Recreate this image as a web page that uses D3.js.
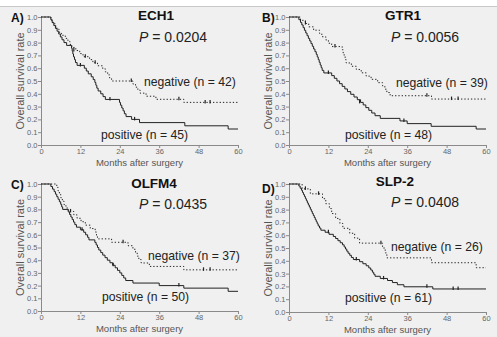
<!DOCTYPE html>
<html>
<head>
<meta charset="utf-8">
<script src="https://cdn.jsdelivr.net/npm/d3@7"></script>
<style>
  html, body { margin: 0; padding: 0; background: #f0f0f0; }
  svg text { font-family: Arial, "Liberation Sans", sans-serif; }
</style>
</head>
<body>
<div id="chart"></div>
<script>
// panel labels and statistics
const panelLabels = ["A)", "B)", "C)", "D)"];
const genes = ["ECH1", "GTR1", "OLFM4", "SLP-2"];
const pValues = ["0.0204", "0.0056", "0.0435", "0.0408"];
const nNegative = [42, 39, 37, 26];
const nPositive = [45, 48, 50, 61];
const xTicks = [0, 12, 24, 36, 48, 60];
const yTicks = [0, 0.1, 0.2, 0.3, 0.4, 0.5, 0.6, 0.7, 0.8, 0.9, 1.0];

// survival steps [month, survival after step]
const echPos = [[0,1],[3.0,0.978],[3.4,0.956],[3.9,0.933],[4.4,0.911],[4.9,0.889],[5.4,0.867],[5.9,0.844],[6.4,0.822],[7.0,0.800],[7.8,0.778],[9.3,0.756],[9.5,0.733],[9.7,0.711],[9.9,0.689],[10.2,0.667],[10.5,0.644],[11.0,0.622],[13.2,0.600],[13.8,0.578],[14.4,0.556],[15.3,0.533],[15.9,0.511],[16.4,0.489],[16.7,0.467],[17.0,0.444],[17.4,0.422],[18.2,0.400],[18.9,0.378],[19.6,0.356],[23.9,0.333],[24.2,0.311],[24.6,0.289],[25.0,0.267],[25.4,0.244],[25.9,0.222],[27.6,0.200],[30.0,0.175],[43.8,0.150],[57.0,0.125],[60,0.125]];
const echNeg = [[0,1],[3.0,0.976],[3.6,0.952],[4.2,0.929],[4.8,0.905],[5.5,0.881],[6.2,0.857],[7.4,0.833],[8.2,0.810],[8.8,0.786],[9.4,0.762],[10.6,0.738],[11.8,0.714],[12.8,0.690],[14.8,0.667],[15.8,0.643],[17.2,0.619],[18.8,0.595],[19.6,0.571],[20.3,0.548],[20.9,0.524],[21.5,0.500],[28.0,0.476],[28.8,0.452],[29.5,0.429],[30.2,0.405],[32.0,0.381],[35.0,0.357],[43.5,0.333],[60,0.333]];
const gtrPos = [[0,1],[3.0,0.979],[3.5,0.958],[3.9,0.938],[4.3,0.917],[4.7,0.896],[5.1,0.875],[5.5,0.854],[5.9,0.833],[6.3,0.813],[6.7,0.792],[7.1,0.771],[7.5,0.750],[7.9,0.729],[8.3,0.708],[8.6,0.688],[8.9,0.667],[9.2,0.646],[9.5,0.625],[9.8,0.604],[10.1,0.583],[10.6,0.563],[13.0,0.542],[13.8,0.521],[14.6,0.500],[15.4,0.479],[16.2,0.458],[17.0,0.438],[17.8,0.417],[18.8,0.396],[19.8,0.375],[20.8,0.354],[21.8,0.333],[22.6,0.313],[23.4,0.292],[24.3,0.271],[25.2,0.250],[26.2,0.229],[27.8,0.208],[33.8,0.188],[36.0,0.167],[43.3,0.146],[57.0,0.125],[60,0.125]];
const gtrNeg = [[0,1],[3.5,0.974],[5.0,0.949],[6.0,0.923],[7.5,0.897],[9.3,0.872],[10.0,0.846],[11.2,0.821],[12.0,0.795],[13.0,0.769],[16.2,0.744],[16.5,0.718],[16.8,0.692],[17.1,0.667],[17.4,0.641],[19.0,0.615],[20.5,0.590],[22.0,0.564],[23.5,0.538],[25.0,0.513],[27.0,0.487],[28.5,0.462],[29.2,0.436],[29.8,0.410],[30.8,0.385],[43.4,0.359],[60,0.359]];
const olfPos = [[0,1],[3.0,0.98],[3.5,0.96],[4.0,0.94],[4.4,0.92],[4.8,0.90],[5.2,0.88],[5.6,0.86],[6.0,0.84],[6.3,0.82],[6.6,0.80],[8.3,0.78],[8.7,0.76],[9.1,0.74],[9.5,0.72],[9.9,0.70],[10.3,0.68],[10.8,0.66],[12.0,0.64],[13.0,0.62],[13.6,0.60],[14.2,0.58],[14.6,0.56],[16.4,0.54],[16.8,0.52],[17.2,0.50],[17.6,0.48],[18.2,0.46],[18.8,0.44],[19.5,0.42],[20.2,0.40],[21.0,0.38],[21.8,0.36],[22.6,0.34],[23.3,0.32],[24.0,0.30],[24.6,0.28],[25.2,0.26],[25.8,0.24],[28.0,0.22],[36.0,0.20],[43.5,0.18],[57.0,0.155],[60,0.155]];
const olfNeg = [[0,1],[4.8,0.973],[5.2,0.946],[5.6,0.919],[6.0,0.892],[6.5,0.865],[7.0,0.838],[7.6,0.811],[8.3,0.784],[10.0,0.757],[11.0,0.730],[12.2,0.703],[13.5,0.676],[15.0,0.649],[16.5,0.622],[16.9,0.595],[17.2,0.568],[21.5,0.541],[26.5,0.514],[28.0,0.486],[28.8,0.459],[29.3,0.432],[29.8,0.405],[30.5,0.378],[33.0,0.351],[43.5,0.324],[60,0.324]];
const slpPos = [[0,1],[3.0,0.984],[3.4,0.967],[3.8,0.951],[4.1,0.934],[4.4,0.918],[4.7,0.902],[5.0,0.885],[5.3,0.869],[5.6,0.852],[5.9,0.836],[6.2,0.820],[6.5,0.803],[6.8,0.787],[7.1,0.770],[7.4,0.754],[7.7,0.738],[8.0,0.721],[8.3,0.705],[8.6,0.689],[8.9,0.672],[9.3,0.656],[9.7,0.639],[11.0,0.623],[12.2,0.607],[13.5,0.590],[14.2,0.574],[14.9,0.557],[15.6,0.541],[16.3,0.525],[16.8,0.508],[17.2,0.492],[17.6,0.475],[18.0,0.459],[18.5,0.443],[19.0,0.426],[19.6,0.410],[21.5,0.393],[22.5,0.377],[23.5,0.361],[24.3,0.344],[24.9,0.328],[25.4,0.311],[25.8,0.295],[26.2,0.279],[27.8,0.262],[30.0,0.246],[31.5,0.230],[33.0,0.213],[35.0,0.197],[43.8,0.180],[60,0.180]];
const slpNeg = [[0,1],[4.0,0.962],[6.5,0.923],[10.2,0.885],[11.2,0.846],[12.3,0.808],[13.0,0.769],[14.2,0.731],[15.5,0.692],[16.4,0.654],[18.5,0.615],[20.0,0.577],[21.5,0.538],[28.5,0.500],[29.3,0.462],[29.8,0.423],[43.4,0.385],[57.0,0.346],[60,0.346]];

// censored cases [month, survival]
const echPosCens = [[12,0.622],[21,0.356],[28.5,0.2]];
const echNegCens = [[10,0.738],[13.5,0.69],[16.5,0.643],[27.5,0.5],[42.0,0.357],[50,0.333],[51.5,0.333]];
const gtrPosCens = [[12,0.563],[21.5,0.333],[35,0.188]];
const gtrNegCens = [[5,0.949],[14,0.769],[42.0,0.385],[49.5,0.359],[51.5,0.359]];
const olfPosCens = [[12.5,0.64],[22,0.36],[42,0.2]];
const olfNegCens = [[9,0.784],[25,0.541],[49.5,0.324],[51.5,0.324]];
const slpPosCens = [[12,0.623],[20.5,0.41],[28.8,0.262],[42,0.197],[50,0.18],[51.5,0.18]];
const slpNegCens = [[5,0.962],[9,0.923],[28,0.538]];

const posCurves = [echPos, gtrPos, olfPos, slpPos];
const negCurves = [echNeg, gtrNeg, olfNeg, slpNeg];
const posCens = [echPosCens, gtrPosCens, olfPosCens, slpPosCens];
const negCens = [echNegCens, gtrNegCens, olfNegCens, slpNegCens];

// panel layout (pixels)
const layout = [
  { x0: 41, x1: 238, y0: 17, y1: 145, lab: [11, 22], title: [156, 20], p: [139, 42], neg: [144, 86], pos: [101, 139], xl: 166 },
  { x0: 289, x1: 486, y0: 17, y1: 145, lab: [262, 22], title: [403, 20], p: [391, 42], neg: [396, 87], pos: [345, 139], xl: 166 },
  { x0: 41, x1: 238, y0: 184, y1: 311, lab: [11, 189], title: [154, 188], p: [139, 209], neg: [148, 260], pos: [102, 301], xl: 332 },
  { x0: 289, x1: 486, y0: 184, y1: 312, lab: [262, 193], title: [395, 186], p: [391, 207], neg: [391, 251], pos: [345, 302], xl: 333 }
];

const W = 497, H = 337;
const svg = d3.select("#chart").append("svg")
  .attr("width", W)
  .attr("height", H);

svg.append("rect").attr("width", W).attr("height", H).attr("fill", "#f0f0f0");
svg.append("rect").attr("width", W).attr("height", 6.5).attr("fill", "#ffffff");
svg.append("line").attr("x1", 0).attr("x2", W).attr("y1", 6.5).attr("y2", 6.5)
  .attr("stroke", "#c8c8c8").attr("stroke-width", 1);

layout.forEach((L, i) => {
  const x = d3.scaleLinear().domain([0, 60]).range([L.x0, L.x1]);
  const y = d3.scaleLinear().domain([0, 1]).range([L.y1, L.y0]);
  const g = svg.append("g");

  // axes
  const yAxis = g.append("g")
    .attr("transform", "translate(" + L.x0 + ",0)")
    .call(d3.axisLeft(y).tickValues(yTicks).tickFormat(d3.format(".1f")).tickSize(3).tickSizeOuter(0));
  const xAxis = g.append("g")
    .attr("transform", "translate(0," + L.y1 + ")")
    .call(d3.axisBottom(x).tickValues(xTicks).tickSize(3).tickSizeOuter(0));
  [yAxis, xAxis].forEach(a => {
    a.select(".domain").attr("stroke", "#8a8a8a");
    a.selectAll(".tick line").attr("stroke", "#8a8a8a");
    a.selectAll(".tick text").attr("fill", "#666").style("font-size", "7.5px")
      .style("font-family", "Arial, 'Liberation Sans', sans-serif");
  });
  yAxis.selectAll(".tick text").attr("x", -3.5);
  xAxis.selectAll(".tick text").attr("y", 4);

  // curves
  const line = d3.line().x(d => x(d[0])).y(d => y(d[1])).curve(d3.curveStepAfter);
  g.append("path").datum(negCurves[i])
    .attr("fill", "none").attr("stroke", "#222").attr("stroke-width", 1)
    .attr("stroke-dasharray", "1.3,2").attr("d", line);
  g.append("path").datum(posCurves[i])
    .attr("fill", "none").attr("stroke", "#222").attr("stroke-width", 1).attr("d", line);

  // censor marks
  const cens = posCens[i].concat(negCens[i]);
  g.selectAll(".cens").data(cens).enter().append("line")
    .attr("x1", d => x(d[0])).attr("x2", d => x(d[0]))
    .attr("y1", d => y(d[1]) - 2.5).attr("y2", d => y(d[1]) + 1)
    .attr("stroke", "#222").attr("stroke-width", 1.2);

  // texts
  g.append("text").attr("x", L.lab[0]).attr("y", L.lab[1])
    .attr("font-weight", "bold").attr("font-size", 12).attr("fill", "#111").text(panelLabels[i]);
  g.append("text").attr("x", L.title[0]).attr("y", L.title[1]).attr("text-anchor", "middle")
    .attr("font-weight", "bold").attr("font-size", 13.5).attr("fill", "#111").text(genes[i]);
  const pt = g.append("text").attr("x", L.p[0]).attr("y", L.p[1])
    .attr("font-size", 14).attr("fill", "#222");
  pt.append("tspan").attr("font-style", "italic").text("P");
  pt.append("tspan").text(" = " + pValues[i]);
  g.append("text").attr("x", L.neg[0]).attr("y", L.neg[1])
    .attr("font-size", 12.2).attr("fill", "#222").text("negative (n = " + nNegative[i] + ")");
  g.append("text").attr("x", L.pos[0]).attr("y", L.pos[1])
    .attr("font-size", 12.2).attr("fill", "#222").text("positive (n = " + nPositive[i] + ")");

  g.append("text")
    .attr("transform", "translate(" + (L.x0 - 17) + "," + ((L.y0 + L.y1) / 2) + ") rotate(-90)")
    .attr("text-anchor", "middle").attr("font-size", 11).attr("fill", "#555")
    .text("Overall survival rate");
  g.append("text").attr("x", (L.x0 + L.x1) / 2).attr("y", L.xl)
    .attr("text-anchor", "middle").attr("font-size", 9.5).attr("fill", "#555")
    .text("Months after surgery");
});
</script>
</body>
</html>
